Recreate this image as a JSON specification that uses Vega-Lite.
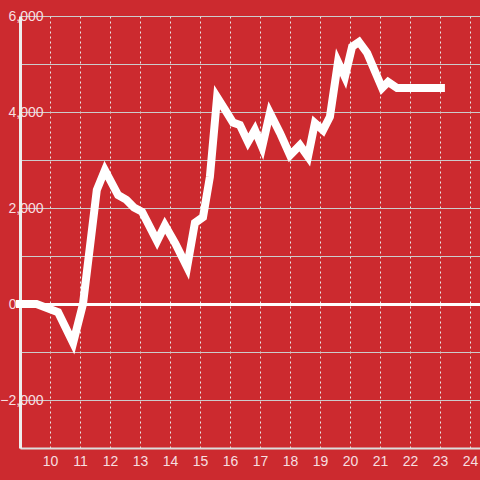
{
  "$schema": "https://vega.github.io/schema/vega-lite/v6.json",
  "autosize": "none",
  "width": 460,
  "height": 432,
  "padding": {"left": 20, "top": 16, "right": 0, "bottom": 32},
  "background": "#cc2a2f",
  "config": {
    "view": {"stroke": null},
    "font": "Liberation Sans"
  },
  "data": {
    "values": [
      {"x": 9.0, "y": 0},
      {"x": 9.55, "y": 0},
      {"x": 10.27, "y": -170},
      {"x": 10.77, "y": -810},
      {"x": 11.1, "y": 0},
      {"x": 11.56, "y": 2375},
      {"x": 11.83, "y": 2790},
      {"x": 12.27, "y": 2270},
      {"x": 12.55, "y": 2170},
      {"x": 12.8, "y": 2010},
      {"x": 13.07, "y": 1920},
      {"x": 13.57, "y": 1310},
      {"x": 13.83, "y": 1640},
      {"x": 14.17, "y": 1270},
      {"x": 14.57, "y": 770},
      {"x": 14.83, "y": 1690},
      {"x": 15.1, "y": 1810},
      {"x": 15.33, "y": 2650},
      {"x": 15.57, "y": 4310},
      {"x": 15.9, "y": 3980},
      {"x": 16.1, "y": 3780},
      {"x": 16.33, "y": 3730},
      {"x": 16.6, "y": 3375},
      {"x": 16.83, "y": 3625},
      {"x": 17.07, "y": 3270},
      {"x": 17.33, "y": 3980},
      {"x": 17.67, "y": 3560},
      {"x": 18.0, "y": 3100},
      {"x": 18.33, "y": 3310},
      {"x": 18.6, "y": 3070},
      {"x": 18.83, "y": 3770},
      {"x": 19.1, "y": 3620},
      {"x": 19.33, "y": 3900},
      {"x": 19.6, "y": 5040},
      {"x": 19.83, "y": 4730},
      {"x": 20.07, "y": 5360},
      {"x": 20.3, "y": 5460},
      {"x": 20.57, "y": 5230},
      {"x": 21.07, "y": 4500},
      {"x": 21.27, "y": 4625},
      {"x": 21.57, "y": 4500},
      {"x": 23.03, "y": 4500}
    ]
  },
  "mark": {
    "type": "line",
    "color": "#ffffff",
    "strokeWidth": 8,
    "strokeCap": "square",
    "strokeJoin": "miter",
    "clip": false
  },
  "encoding": {
    "x": {
      "field": "x",
      "type": "quantitative",
      "scale": {"domain": [9, 24.333], "nice": false, "zero": false},
      "axis": {
        "title": null,
        "values": [10, 11, 12, 13, 14, 15, 16, 17, 18, 19, 20, 21, 22, 23, 24],
        "format": "d",
        "grid": true,
        "gridColor": "#e8e8e8",
        "gridDash": [2, 3],
        "gridWidth": 1,
        "ticks": false,
        "domainColor": "#dddddd",
        "domainWidth": 2,
        "labelColor": "#f7dfe0",
        "labelFont": "Liberation Sans",
        "labelFontSize": 14,
        "labelPadding": 6,
        "labelFlush": false
      }
    },
    "y": {
      "field": "y",
      "type": "quantitative",
      "scale": {"domain": [-3000, 6000], "nice": false, "zero": false},
      "axis": {
        "title": null,
        "values": [-3000, -2000, -1000, 0, 1000, 2000, 3000, 4000, 5000, 6000],
        "labelExpr": "datum.value % 2000 === 0 ? format(datum.value, ',') : ''",
        "grid": true,
        "gridColor": {"condition": {"test": "datum.value === 0", "value": "#ffffff"}, "value": "#cccccc"},
        "gridWidth": {"condition": {"test": "datum.value === 0", "value": 3}, "value": 1},
        "ticks": false,
        "domainColor": "#eeeeee",
        "domainWidth": 3,
        "labelColor": "#f7dfe0",
        "labelFont": "Liberation Sans",
        "labelFontSize": 14,
        "labelPadding": {"condition": {"test": "datum.value === 0", "value": 4}, "value": -23},
        "labelFlush": false
      }
    }
  }
}
